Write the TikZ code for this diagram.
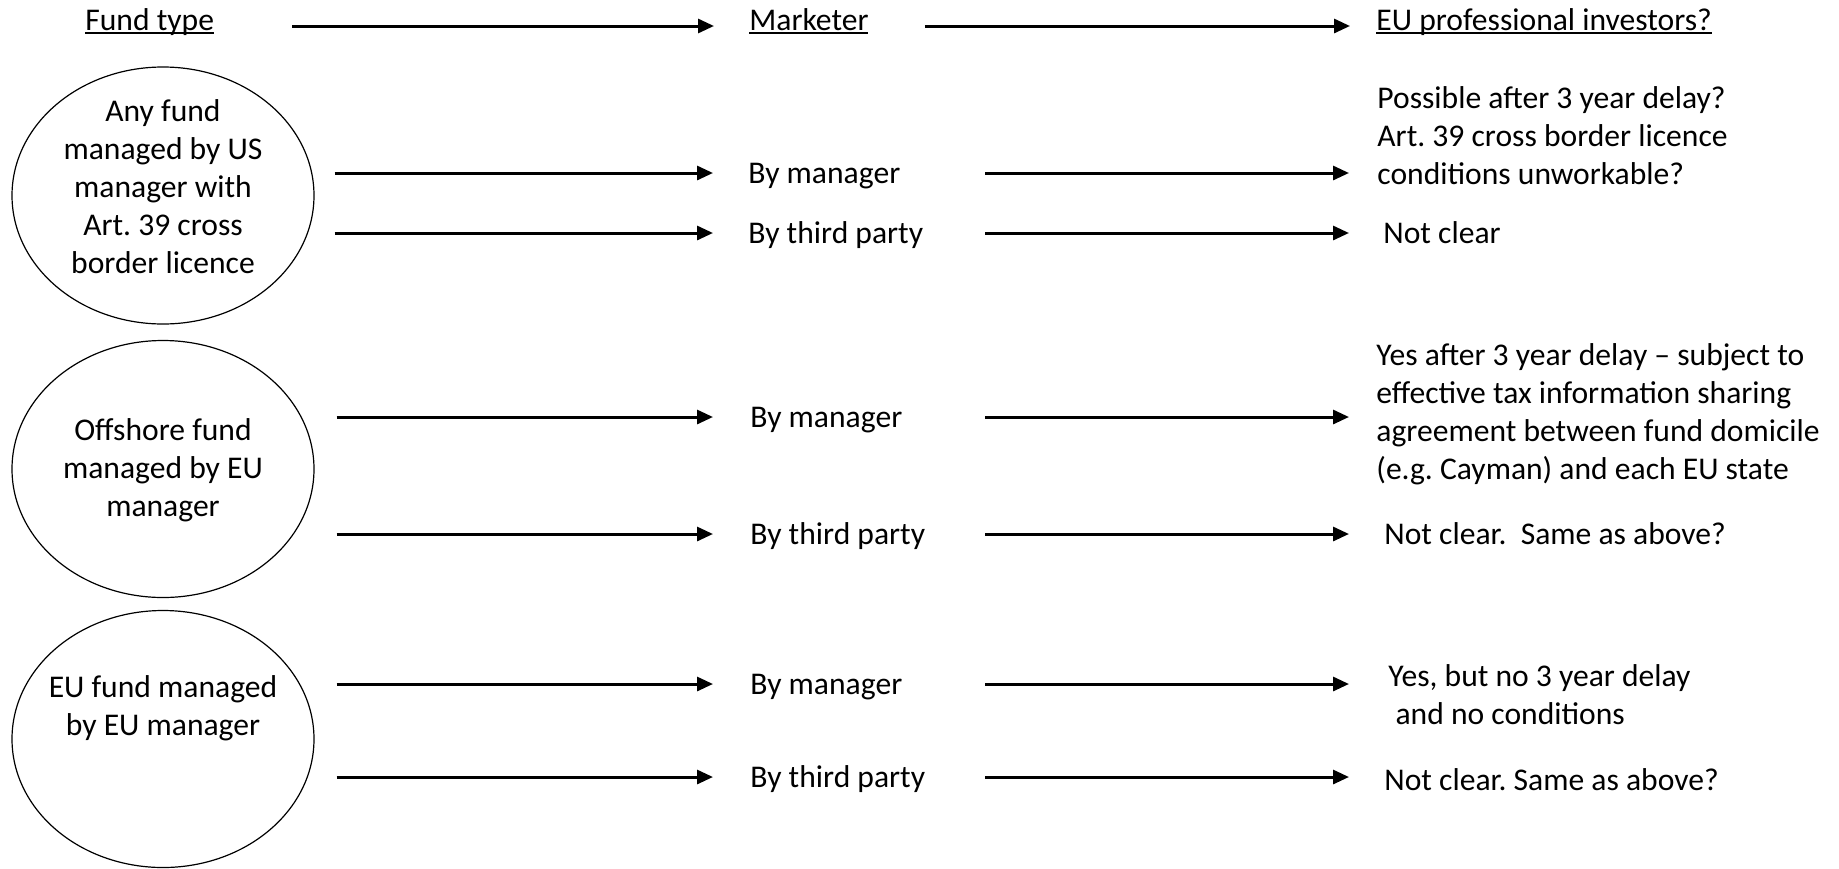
\documentclass[tikz,border=0pt]{standalone}
\usepackage{fontspec}
\setmainfont{Carlito}
\usetikzlibrary{arrows.meta,shapes.geometric}
\frenchspacing
\newcommand\ulin[1]{\setbox0\hbox{#1}\rlap{\rule[-1.9pt]{\wd0}{0.75pt}}\box0}
\newcommand\mlines[2][l]{\begin{tabular}[t]{@{}#1@{}}#2\end{tabular}}
\begin{document}
\begin{tikzpicture}[x=0.5pt,y=-0.5pt,
  font=\fontsize{15.8}{19}\selectfont,
  arr/.style={line width=1.5pt,-{Triangle[length=8pt,width=7pt]}},
  ell/.style={draw,ellipse,line width=0.6pt,minimum width=151pt,minimum height=128.5pt,inner sep=0pt},
  head/.style={anchor=west,inner sep=0pt,text height=6pt,text depth=2pt},
  mkt/.style={anchor=west,inner sep=0pt,text height=10pt,text depth=0pt},
  txt/.style={anchor=base west,inner sep=0pt},
  ctxt/.style={anchor=base,inner sep=0pt}]
\path[fill=white] (0,0) rectangle (1839,868);
\useasboundingbox (0,0) rectangle (1839,868);

% headers
\node[head] (h1) at (85,26) {\ulin{Fund type}};
\node[head] (h2) at (749,26) {\ulin{Marketer}};
\node[head] (h3) at (1376,26) {\ulin{EU professional investors?}};
\draw[arr,shorten <=39pt,shorten >=17.5pt] (h1) -- (h2);
\draw[arr,shorten <=28pt,shorten >=13pt] (h2) -- (h3);

% fund types
\node[ell] (e1) at (163,195.5) {};
\node[ell] (e2) at (163,469) {};
\node[ell] (e3) at (163,739) {};
\node[ctxt] (t1) at (163,121) {\mlines[c]{Any fund\\managed by US\\manager with\\Art. 39 cross\\border licence}};
\node[ctxt] (t2) at (163,440) {\mlines[c]{Offshore fund\\managed by EU\\manager}};
\node[ctxt] (t3) at (163,697) {\mlines[c]{EU fund managed\\by EU manager}};

% marketers
\node[mkt] (m1) at (748,173) {By manager};
\node[mkt] (m2) at (748,233) {By third party};
\node[mkt] (m3) at (750,417) {By manager};
\node[mkt] (m4) at (750,534) {By third party};
\node[mkt] (m5) at (750,684) {By manager};
\node[mkt] (m6) at (750,777) {By third party};

% results
\node[txt] (r1) at (1377,108) {\mlines{Possible after 3 year delay?\\Art. 39 cross border licence\\conditions unworkable?}};
\node[txt] (r2) at (1383,243) {Not clear};
\node[txt] (r3) at (1376,365) {\mlines{Yes after 3 year delay -- subject to\\effective tax information sharing\\agreement between fund domicile\\(e.g. Cayman) and each EU state}};
\node[txt] (r4) at (1384,544) {Not clear.~~Same as above?};
\node[txt] (r5) at (1388,686) {\mlines{Yes, but no 3 year delay\\\ and no conditions}};
\node[txt] (r6) at (1384,790) {Not clear. Same as above?};

% arrows fund type -> marketer
\draw[arr,shorten <=10pt,shorten >=17.5pt] (e1.east |- m1) -- (m1);
\draw[arr,shorten <=10pt,shorten >=17.5pt] (e1.east |- m2) -- (m2);
\draw[arr,shorten <=11pt,shorten >=18.5pt] (e2.east |- m3) -- (m3);
\draw[arr,shorten <=11pt,shorten >=18.5pt] (e2.east |- m4) -- (m4);
\draw[arr,shorten <=11pt,shorten >=18.5pt] (e3.east |- m5) -- (m5);
\draw[arr,shorten <=11pt,shorten >=18.5pt] (e3.east |- m6) -- (m6);

% arrows marketer -> result
\coordinate (rs) at (985,0);
\coordinate (re) at (1349,0);
\foreach \m in {m1,m2,m3,m4,m5,m6}
  \draw[arr] (\m -| rs) -- (\m -| re);
\end{tikzpicture}
\end{document}
